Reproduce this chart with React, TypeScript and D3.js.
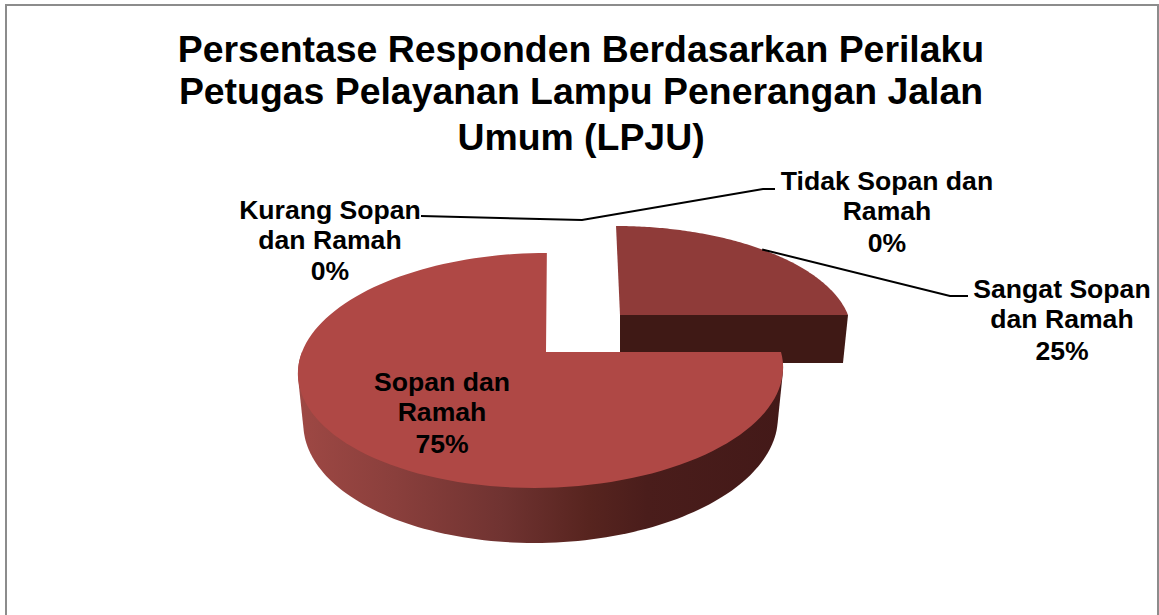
import React from "react";
import * as d3 from "d3";

const categories = ["Sangat Sopan dan Ramah", "Sopan dan Ramah", "Kurang Sopan dan Ramah", "Tidak Sopan dan Ramah"];
const percents = [25, 75, 0, 0];
const titleLines = [
  "Persentase Responden Berdasarkan Perilaku",
  "Petugas Pelayanan Lampu Penerangan Jalan",
  "Umum (LPJU)",
];

const W = 1159;
const H = 615;
const FONT = "'Liberation Sans', Arial, sans-serif";

const persp = 0.157;
const depthAt = d3.scaleLinear().domain([315, 488]).range([48, 55]);

type Geo = { ox: number; oy: number; bR: number; bL: number; leanA: number; leanB: number; ay: number };
const geoSmall: Geo = { ox: 620, oy: 315, bR: 228, bL: 228, leanA: -4.6, leanB: 0, ay: 103 };
const geoMain: Geo = { ox: 546, oy: 352, bR: 235, bL: 244, leanA: 5.5, leanB: -4.5, ay: 114.6 };

function project(g: Geo, theta: number): [number, number] {
  const u = Math.sin(theta);
  const v = Math.cos(theta);
  const d = 1 + persp * v;
  const b = ((g.bR + g.bL) / 2) * u - ((g.bL - g.bR) / 2) * u * u;
  return [g.ox + (b + g.leanA * v + g.leanB * v * v) / d, g.oy - (g.ay * v) / d];
}
function lower(g: Geo, p: [number, number]): [number, number] {
  return [g.ox + (p[0] - g.ox) * 0.978, p[1] + depthAt(p[1])];
}
function arcPts(g: Geo, a0: number, a1: number): [number, number][] {
  return d3.range(0, 121).map((i) => project(g, a0 + ((a1 - a0) * i) / 120));
}
const line = d3.line<[number, number]>().x((d) => d[0]).y((d) => d[1]);

const arcs = d3.pie<number>().sort(null)(percents);
const small = arcs[0];
const main = arcs[1];

const smallTop = [[geoSmall.ox, geoSmall.oy] as [number, number], ...arcPts(geoSmall, small.startAngle, small.endAngle)];
const mainTop = [[geoMain.ox, geoMain.oy] as [number, number], ...arcPts(geoMain, main.startAngle, main.endAngle)];

const smallEnd = project(geoSmall, small.endAngle);
const smallWall: [number, number][] = [
  [geoSmall.ox, geoSmall.oy],
  smallEnd,
  lower(geoSmall, smallEnd),
  [geoSmall.ox, lower(geoSmall, smallEnd)[1]],
];

const wallUpper = arcPts(geoMain, main.startAngle, Math.PI * 1.5);
const mainWall = d3.polygonHull([...wallUpper, ...wallUpper.map((p) => lower(geoMain, p))] as [number, number][])!;

const anchorSmall = project(geoSmall, (small.startAngle + small.endAngle) / 2);

const wallStops: [number, string][] = [
  [0, "#9e4844"],
  [0.2, "#8a3f3c"],
  [0.42, "#703331"],
  [0.6, "#57241f"],
  [0.72, "#4a1d1b"],
  [1, "#431918"],
];

type Lab = { lines: string[]; xs: number[]; ys: number[] };
const labels: Lab[] = [
  { lines: ["Tidak Sopan dan", "Ramah", `${percents[3]}%`], xs: [887, 887, 887], ys: [190, 220, 252] },
  { lines: ["Kurang Sopan", "dan Ramah", `${percents[2]}%`], xs: [330, 330, 330], ys: [219, 249, 280] },
  { lines: ["Sangat Sopan", "dan Ramah", `${percents[0]}%`], xs: [1062, 1062, 1062], ys: [298, 328, 360] },
  { lines: ["Sopan dan", "Ramah", `${percents[1]}%`], xs: [442, 442, 442], ys: [391, 421, 453] },
];

const leaderZero: [number, number][] = [[421, 216], [582, 220], [763, 189], [775, 189]];
const leaderSangat: [number, number][] = [anchorSmall, [950, 296], [968, 296]];

export default function App() {
  return (
    <svg width={W} height={H} style={{ position: "absolute", left: 0, top: 0, background: "#fff" }}>
      <defs>
        <linearGradient id="wall" gradientUnits="userSpaceOnUse" x1={298} x2={783} y1={0} y2={0}>
          {wallStops.map(([o, c]) => (
            <stop key={o} offset={o} stopColor={c} />
          ))}
        </linearGradient>
      </defs>
      <path d={`M6,${H}V5H1158V${H}`} fill="none" stroke="#8c8c8c" strokeWidth={2} />
      <g fontFamily={FONT} fontWeight={700} fontSize={37.4} textAnchor="middle" fill="#000">
        {titleLines.map((t, i) => (
          <text key={t} x={581} y={[62, 104, 150][i]}>{t}</text>
        ))}
      </g>
      <path d={line(smallWall)!} fill="#3f1915" />
      <path d={line(smallTop)! + "Z"} fill="#8f3b39" />
      <path d={line(mainWall)! + "Z"} fill="url(#wall)" />
      <path d={line(mainTop)! + "Z"} fill="#af4845" />
      <path d={line(leaderZero)!} fill="none" stroke="#000" strokeWidth={2} />
      <path d={line(leaderSangat)!} fill="none" stroke="#000" strokeWidth={2} />
      <g fontFamily={FONT} fontWeight={700} fontSize={26.6} textAnchor="middle" fill="#000">
        {labels.map((l) =>
          l.lines.map((t, i) => (
            <text key={l.lines[0] + i} x={l.xs[i]} y={l.ys[i]}>{t}</text>
          ))
        )}
      </g>
    </svg>
  );
}
